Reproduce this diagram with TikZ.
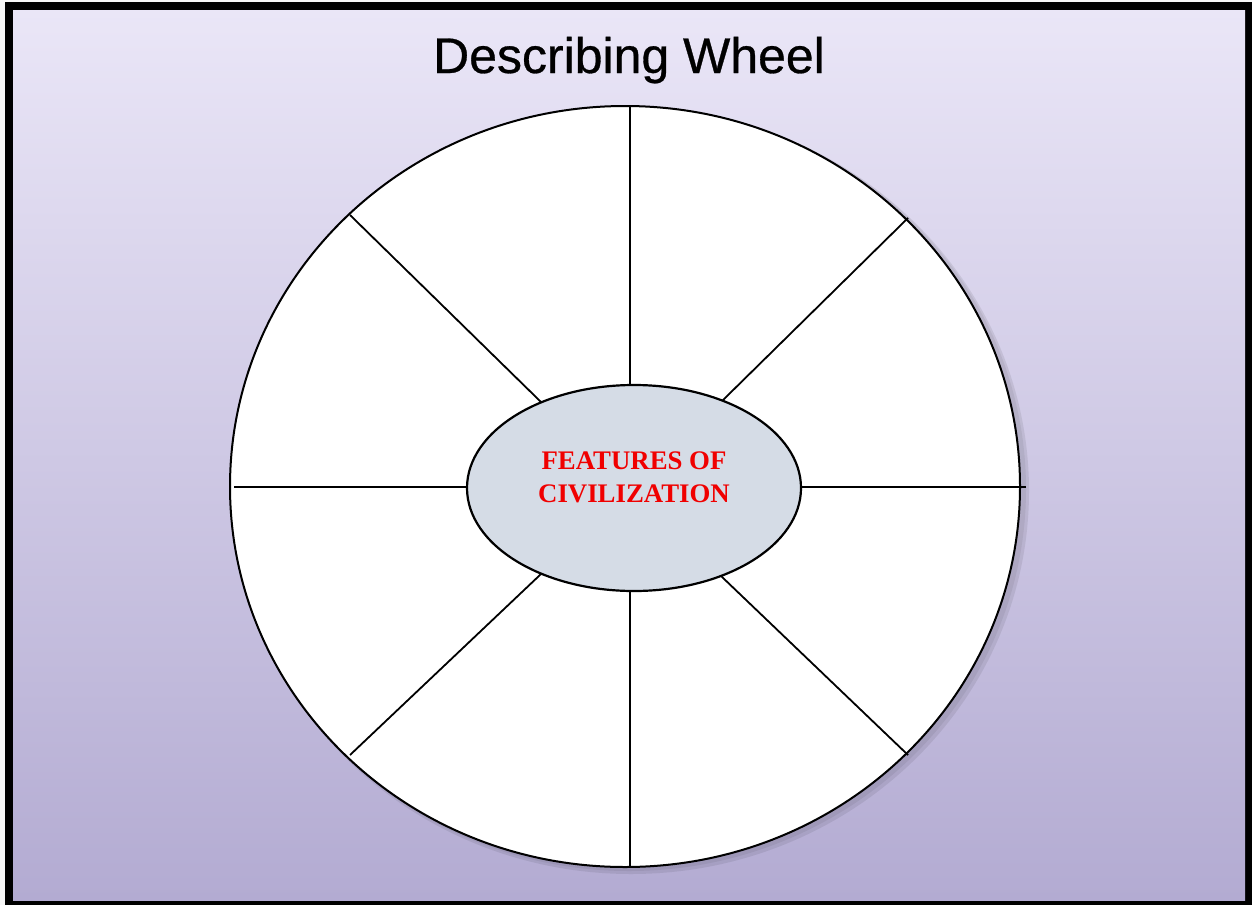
\documentclass[tikz,border=0pt]{standalone}
\usepackage{fontspec}
\setmainfont{Liberation Serif}
\newfontfamily\titlefont[FakeBold=0.6]{Liberation Sans}
\usetikzlibrary{shapes.geometric}
\definecolor{bgtop}{RGB}{234,230,247}
\definecolor{bgbot}{RGB}{179,171,210}
\definecolor{hubfill}{RGB}{213,220,230}
\definecolor{hubred}{RGB}{240,0,0}
\tikzset{
  spoke/.style={line width=1.8pt, black},
  hubtext/.style={font=\bfseries\fontsize{26.8}{30}\selectfont, text=hubred, anchor=base, inner sep=0pt},
}
\begin{document}
\begin{tikzpicture}[x=1pt,y=-1pt]
\useasboundingbox (0,0) rectangle (1252,905);
\fill[white!94!gray] (0,0) rectangle (1252,905);
\fill[black] (5,2) rectangle (1252,905);
\shade[top color=bgtop, bottom color=bgbot] (13,10) rectangle (1245,900);

\node[font=\titlefont\fontsize{50}{60}\selectfont, anchor=base, inner sep=0pt] (title) at (629,73) {Describing Wheel};

% shadow
\fill[black, opacity=0.08] (631,491) ellipse [x radius=398, y radius=383];
\fill[black, opacity=0.06] (629,489) ellipse [x radius=397, y radius=382];
\node[draw, ellipse, fill=white, line width=2pt, inner sep=0pt,
      minimum width=790pt, minimum height=761pt] (wheel) at (625,486.5) {};

% spoke end points
\coordinate (nT) at (630,106);
\coordinate (nB) at (630,867);
\coordinate (nL) at (234,487);
\coordinate (nR) at (1026,487);
\coordinate (nTL) at (350,215);
\coordinate (nTR) at (908,218);
\coordinate (nBL) at (350,755);
\coordinate (nBR) at (908,755);
\coordinate (iT) at (630,390);
\coordinate (iB) at (630,588);
\coordinate (iL) at (472,487);
\coordinate (iR) at (798,487);
\coordinate (iTL) at (541,402);
\coordinate (iTR) at (721,402);
\coordinate (iBL) at (541,574);
\coordinate (iBR) at (721,576);
\draw[spoke] (nT) -- (iT);
\draw[spoke] (nB) -- (iB);
\draw[spoke] (nL) -- (iL);
\draw[spoke] (nR) -- (iR);
\draw[spoke] (nTL) -- (iTL);
\draw[spoke] (nTR) -- (iTR);
\draw[spoke] (nBL) -- (iBL);
\draw[spoke] (nBR) -- (iBR);

\node[draw, ellipse, fill=hubfill, line width=2.2pt, inner sep=0pt,
      minimum width=334pt, minimum height=206pt] (hub) at (634,488) {};
\node[hubtext] (line1) at (634,469) {FEATURES OF};
\node[hubtext] (line2) at (634,502) {CIVILIZATION};
\end{tikzpicture}
\end{document}
